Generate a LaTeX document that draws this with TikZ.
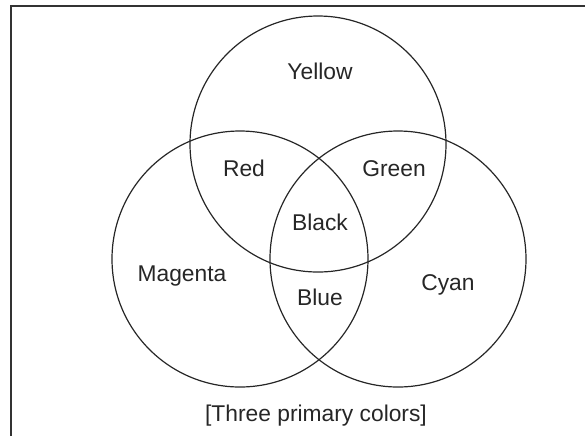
\documentclass[tikz,border=0pt]{standalone}
\usepackage{fontspec}
\setmainfont{Liberation Sans}
\begin{document}
\begin{tikzpicture}[x=0.5pt,y=-0.5pt,
  ring/.style={circle, draw=black!85, line width=0.6pt, minimum size=256pt*0.5, inner sep=0pt},
  lbl/.style={anchor=base, text=black!85, font=\fontsize{11.4}{13}\selectfont, inner sep=0pt},
  frame/.style={draw=black!80, line width=1pt}]
\useasboundingbox (0,0) rectangle (585,436);
\coordinate (fb) at (10.5,436);
\coordinate (fc) at (10.5,6);
\coordinate (fr) at (585,6);
\draw[frame] (fb) -- (fc) -- (fr);
\node[ring] (Y) at (318,144) {};
\node[ring] (M) at (240,259) {};
\node[ring] (C) at (398,259) {};
\node[lbl] (yellow) at (320,79.3) {Yellow};
\node[lbl] (red) at (244,176.7) {Red};
\node[lbl] (green) at (394,176.7) {Green};
\node[lbl] (black) at (320,230) {Black};
\node[lbl] (magenta) at (182,281.7) {Magenta};
\node[lbl] (blue) at (320,305) {Blue};
\node[lbl] (cyan) at (448,290) {Cyan};
\node[lbl] (caption) at (316,421.7) {[Three primary colors]};
\end{tikzpicture}
\end{document}
